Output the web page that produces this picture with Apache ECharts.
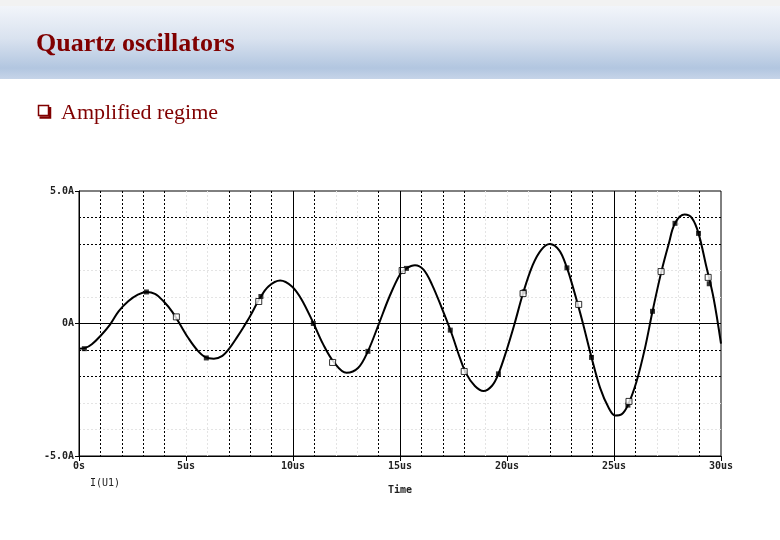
<!DOCTYPE html>
<html><head><meta charset="utf-8">
<script src="https://cdn.jsdelivr.net/npm/echarts@6/dist/echarts.min.js"></script>
<style>html,body{margin:0;padding:0;background:#fff}#c{width:780px;height:540px}</style>
</head><body><div id="c"></div>
<script>
// ---- data ----
const timeUs = [0,0.3,0.6,1.0,1.45,1.85,2.3,2.75,3.15,3.55,3.95,4.35,4.8,5.1,5.5,5.9,6.3,6.7,7.0,7.35,7.7,8.0,8.45,8.85,9.4,9.95,10.4,10.95,11.4,11.9,12.5,13.05,13.5,14.0,14.5,15.0,15.3,15.7,16.1,16.5,16.95,17.4,17.8,18.1,18.5,18.9,19.3,19.6,20.0,20.35,20.75,21.2,21.6,22.0,22.45,22.8,23.0,23.3,23.55,23.95,24.35,24.75,25.05,25.35,25.65,26.05,26.45,26.8,27.2,27.55,27.85,28.3,28.65,28.95,29.3,29.65,30.0];
const currentA = [-0.95,-0.92,-0.78,-0.47,-0.04,0.46,0.84,1.09,1.19,1.12,0.84,0.45,-0.14,-0.54,-0.98,-1.27,-1.33,-1.22,-0.97,-0.56,-0.12,0.28,0.95,1.40,1.62,1.40,0.91,0.02,-0.77,-1.45,-1.86,-1.67,-1.05,-0.04,1.0,1.85,2.08,2.20,2.03,1.46,0.59,-0.35,-1.30,-1.90,-2.36,-2.55,-2.35,-1.90,-0.96,-0.02,1.14,2.20,2.78,3.0,2.75,2.10,1.60,0.75,0.0,-1.28,-2.43,-3.18,-3.47,-3.43,-3.08,-2.2,-0.92,0.46,1.91,2.98,3.78,4.11,3.97,3.40,2.2,0.97,-0.76];
const openMarkT = [4.55,8.4,11.85,15.1,18.0,20.75,23.35,25.7,27.2,29.4];
const openMarkA = [0.25,0.83,-1.47,2.0,-1.81,1.13,0.72,-2.94,1.96,1.74];
const fillMarkT = [0.25,3.15,5.95,8.5,10.95,13.5,15.3,17.35,19.6,20.8,22.8,23.95,25.65,26.8,27.85,28.95,29.45];
const fillMarkA = [-0.95,1.19,-1.3,1.02,0.0,-1.05,2.08,-0.25,-1.9,1.2,2.1,-1.28,-3.08,0.46,3.78,3.4,1.5];
const xTickLabels = {0:'0s',5:'5us',10:'10us',15:'15us',20:'20us',25:'25us',30:'30us'};
const yTickLabels = {'5':'5.0A','0':'0A','-5':'-5.0A'};
const seriesName = 'I(U1)';
const xAxisName = 'Time';
const titleText = 'Quartz oscillators';
const bulletText = 'Amplified regime';
const solidGridX = [10,15,25];
const solidGridY = [0];
const darkGridX = [1,2,3,4,7,8,9,11,14,16,17,18,22,23,24,26,29];
const faintGridX = [5,6,12,13,19,20,21,27,28];
const darkGridY = [4,3,-1,-2];
const faintGridY = [2,1,-3,-4];

// ---- build ----
const DARK = '#000', FAINT = '#e4e4e4', NONE = 'rgba(0,0,0,0)';
function gridColors(min, max, dark, faint) {
  const out = [];
  for (let v = min; v <= max; v++) {
    out.push(dark.includes(v) ? DARK : faint.includes(v) ? FAINT : NONE);
  }
  return out;
}
const zip = (a, b) => a.map((v, i) => [v, b[i]]);
const monoFont = '"DejaVu Sans Mono", monospace';

const chart = echarts.init(document.getElementById('c'), null, {renderer: 'canvas'});
chart.setOption({
  animation: false,
  backgroundColor: '#fff',
  graphic: [
    {type: 'rect', shape: {x: 0, y: 0, width: 780, height: 6}, style: {fill: '#f2f2f2'}, silent: true},
    {type: 'rect', shape: {x: 0, y: 6, width: 780, height: 73}, silent: true,
     style: {fill: new echarts.graphic.LinearGradient(0, 0, 0, 1, [
       {offset: 0, color: '#f2f5fa'}, {offset: 0.45, color: '#d9e2ef'},
       {offset: 0.85, color: '#b2c6e0'}, {offset: 1, color: '#c6d4e8'}])}},
    {type: 'text', x: 36, y: 44, silent: true,
     style: {text: titleText, font: 'bold 26px "Liberation Serif", serif', fill: '#800000', verticalAlign: 'middle'}},
    {type: 'rect', shape: {x: 38.5, y: 105.5, width: 10, height: 10}, silent: true,
     style: {fill: '#fff', stroke: '#800000', lineWidth: 1.5}},
    {type: 'polyline', shape: {points: [[50, 107], [50, 117.5], [39.5, 117.5]]}, silent: true,
     style: {stroke: '#800000', lineWidth: 2.5, fill: null}},
    {type: 'text', x: 61, y: 113, silent: true,
     style: {text: bulletText, font: 'normal 22px "Liberation Serif", serif', fill: '#800000', verticalAlign: 'middle'}}
  ],
  grid: {left: 79, top: 191, width: 642, height: 265, show: true, borderColor: '#000', borderWidth: 1, backgroundColor: 'transparent'},
  legend: {
    data: [{name: seriesName, icon: 'none'}], left: 76, top: 473, itemWidth: 4, itemHeight: 4,
    textStyle: {fontFamily: monoFont, fontSize: 10, color: '#222'}, selectedMode: false
  },
  xAxis: [
    {type: 'value', min: 0, max: 30, interval: 1, axisLabel: {show: false}, axisTick: {show: false}, axisLine: {show: false, onZero: false},
     splitLine: {show: true, lineStyle: {color: gridColors(0, 30, darkGridX, faintGridX), type: [2, 2], width: 1}}},
    {type: 'value', min: 0, max: 30, interval: 5, position: 'bottom',
     axisLine: {show: true, onZero: false, lineStyle: {color: '#000'}}, axisTick: {show: true, length: 5, lineStyle: {color: '#000'}},
     splitLine: {show: false},
     axisLabel: {formatter: v => xTickLabels[v] ?? '', fontFamily: monoFont, fontSize: 10, fontWeight: 'bold', color: '#222', margin: 5},
     name: xAxisName, nameLocation: 'middle', nameGap: 29,
     nameTextStyle: {fontFamily: monoFont, fontSize: 10, fontWeight: 'bold', color: '#222'}}
  ],
  yAxis: [
    {type: 'value', min: -5, max: 5, interval: 1, axisLabel: {show: false}, axisTick: {show: false}, axisLine: {show: false, onZero: false},
     splitLine: {show: true, lineStyle: {color: gridColors(-5, 5, darkGridY, faintGridY), type: [2, 2], width: 1}}},
    {type: 'value', min: -5, max: 5, interval: 5, position: 'left',
     axisLine: {show: true, onZero: false, lineStyle: {color: '#000'}}, axisTick: {show: true, length: 4, lineStyle: {color: '#000'}},
     splitLine: {show: false},
     axisLabel: {formatter: v => yTickLabels[String(v)] ?? '', fontFamily: monoFont, fontSize: 10, fontWeight: 'bold', color: '#222', margin: 5}}
  ],
  series: [
    {name: 'grid', type: 'line', xAxisIndex: 0, yAxisIndex: 0, data: [], z: 1, silent: true,
     markLine: {silent: true, symbol: 'none', label: {show: false}, animation: false,
       lineStyle: {color: '#000', type: 'solid', width: 1},
       data: solidGridX.map(v => ({xAxis: v})).concat(solidGridY.map(v => ({yAxis: v})))}},
    {name: seriesName, type: 'line', xAxisIndex: 0, yAxisIndex: 0, z: 3,
     data: zip(timeUs, currentA), showSymbol: false, smooth: 0.35,
     lineStyle: {color: '#000', width: 2}, itemStyle: {color: '#000'}},
    {name: 'filled', type: 'scatter', xAxisIndex: 0, yAxisIndex: 0, z: 4,
     data: zip(fillMarkT, fillMarkA), symbol: 'rect', symbolSize: 5, itemStyle: {color: '#000'}},
    {name: 'open', type: 'scatter', xAxisIndex: 0, yAxisIndex: 0, z: 4,
     data: zip(openMarkT, openMarkA), symbol: 'rect', symbolSize: 6, itemStyle: {color: '#fff', borderColor: '#000', borderWidth: 1}}
  ]
});
</script></body></html>
